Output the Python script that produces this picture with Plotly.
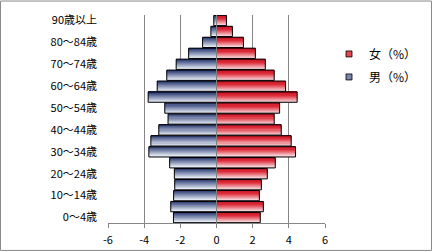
import plotly.graph_objects as go

ages = ["0～4歳", "5～9歳", "10～14歳", "15～19歳", "20～24歳", "25～29歳", "30～34歳",
        "35～39歳", "40～44歳", "45～49歳", "50～54歳", "55～59歳", "60～64歳", "65～69歳",
        "70～74歳", "75～79歳", "80～84歳", "85～89歳", "90歳以上"]
male = [-2.38, -2.53, -2.37, -2.31, -2.33, -2.59, -3.74, -3.63, -3.19, -2.68,
        -2.86, -3.78, -3.28, -2.75, -2.23, -1.54, -0.77, -0.31, -0.15]
female = [2.42, 2.59, 2.37, 2.48, 2.81, 3.25, 4.37, 4.13, 3.58, 3.19,
          3.49, 4.46, 3.82, 3.19, 2.70, 2.15, 1.49, 0.88, 0.55]
x_ticks = [-6, -4, -2, 0, 2, 4, 6]
x_tick_labels = ["-6", "-4", "-2", "0", "2", "4", "6"]
shown_ages = ages[::2]

W, H = 433, 252
L, R, T, B = 108, 325, 14.5, 223

def lerp(c1, c2, t):
    return "rgb(%d,%d,%d)" % tuple(round(a + (b - a) * t) for a, b in zip(c1, c2))

fig = go.Figure()
N = 10
bw = 0.94
sw = bw / N
blue_top, blue_bot = (36, 52, 110), (225, 231, 242)
red_top, red_mid, red_bot = (200, 20, 35), (222, 45, 58), (246, 205, 210)

def red_at(t):
    if t < 0.35:
        return lerp(red_top, red_mid, t / 0.35)
    return lerp(red_mid, red_bot, (t - 0.35) / 0.65)

def blue_at(t):
    return lerp(blue_top, blue_bot, t)

for vals, name, fn in [(female, "女（%）", red_at), (male, "男（%）", blue_at)]:
    for i in range(N):
        t = i / (N - 1)
        off = bw / 2 - (i + 1) * sw
        fig.add_trace(go.Bar(
            y=ages, x=vals, orientation="h", width=sw, offset=off,
            marker=dict(color=fn(t), line=dict(width=0)),
            showlegend=False, hoverinfo="skip"))
    fig.add_trace(go.Bar(
        y=ages, x=vals, orientation="h", width=bw, offset=-bw / 2,
        marker=dict(color="rgba(0,0,0,0)", line=dict(color="black", width=1)),
        name=name, showlegend=False))

for k, (name, fn) in enumerate([("女（%）", red_at), ("男（%）", blue_at)]):
    fig.add_trace(go.Scatter(y=[None], x=[None], mode="markers", name=name,
                             legendgroup="g%d" % k,
                             marker=dict(symbol="square", size=6, color=fn(0.45),
                                         line=dict(color="black", width=0.8))))

def px(xp):
    return (xp - L) / (R - L)

def py(yp):
    return (B - yp) / (B - T)

fig.add_shape(type="rect", xref="paper", yref="paper",
              x0=px(0.5), x1=px(431.5), y0=py(250.5), y1=py(0.5),
              line=dict(color="#8a8a8a", width=1), layer="below")
fig.add_shape(type="line", xref="x", yref="paper", x0=0, x1=0, y0=0, y1=1,
              line=dict(color="#808080", width=1))

fig.update_layout(
    width=W, height=H,
    margin=dict(l=L, r=W - R, t=T, b=H - B, pad=0, autoexpand=False),
    barmode="overlay",
    plot_bgcolor="white", paper_bgcolor="white",
    font=dict(family="Noto Sans CJK JP", size=11, color="black"),
    showlegend=True,
    legend=dict(x=px(329), y=py(39), xanchor="left", yanchor="top",
                font=dict(size=12), traceorder="grouped", tracegroupgap=4,
                itemwidth=30, bgcolor="rgba(0,0,0,0)"),
    xaxis=dict(range=[-6, 6], tickvals=x_ticks, ticktext=x_tick_labels,
               showgrid=True, gridcolor="#868686", gridwidth=1, zeroline=False,
               showline=True, linecolor="#868686", ticks="outside", ticklen=4,
               tickcolor="#868686", tickfont=dict(size=11), ticklabelstandoff=3),
    yaxis=dict(type="category", categoryorder="array", categoryarray=ages,
               range=[-0.5, len(ages) - 0.5], tickvals=shown_ages,
               ticktext=shown_ages, showgrid=False, showline=False, ticks="",
               ticklabelstandoff=10),
)

fig.write_html("out.html")
